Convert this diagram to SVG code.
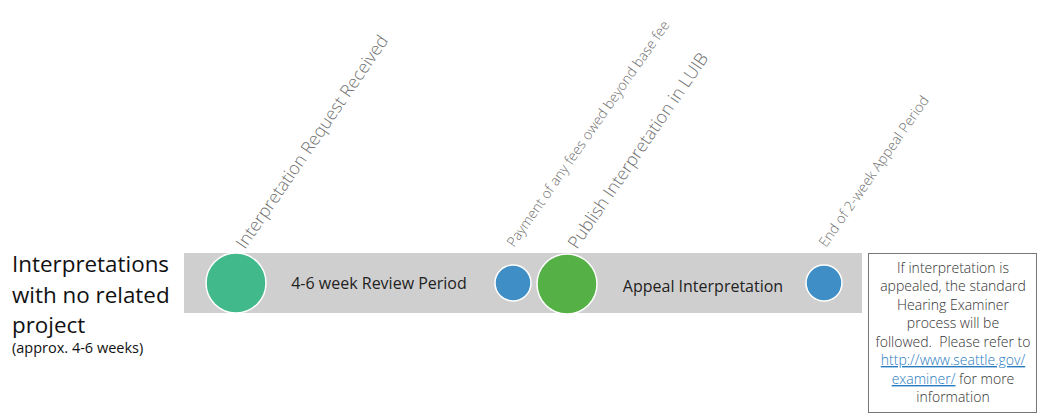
<svg xmlns="http://www.w3.org/2000/svg" width="1037" height="414" viewBox="0 0 1037 414">
<style>
.lbl{font-family:"Open Sans","Liberation Sans",sans-serif;font-weight:300;fill:#707070}
.big{font-size:17.6px}
.sm{font-size:14px}
.phase{font-family:"Open Sans","Liberation Sans",sans-serif;font-size:16px;fill:#222}
.title{font-family:"Open Sans","Liberation Sans",sans-serif;font-size:22.4px;fill:#111}
.note{font-family:"Open Sans","Liberation Sans",sans-serif;font-weight:300;font-size:14px;fill:#333;text-anchor:middle;white-space:pre}
.dot{stroke:#fff;stroke-width:1.5}
</style>
<rect x="184" y="253" width="678" height="60" fill="#d0cfcf"/>
<g id="title">
<text class="title" x="12" y="272">Interpretations</text>
<text class="title" x="12" y="303">with no related</text>
<text class="title" x="12" y="333">project</text>
<text class="title" x="12" y="353" style="font-size:14.5px">(approx. 4-6 weeks)</text>
</g>
<g id="connectors"></g>
<g id="n1"><circle class="dot" cx="236" cy="283" r="30" fill="#41b98a"/>
<text class="lbl big" transform="translate(245,250) rotate(-55.5)">Interpretation Request Received</text></g>
<g id="p1"><text class="phase" x="379" y="289" text-anchor="middle">4-6 week Review Period</text></g>
<g id="n2"><circle class="dot" cx="513" cy="283" r="18" fill="#3f8fc6"/>
<text class="lbl sm" transform="translate(514,248) rotate(-55)">Payment of any fees owed beyond base fee</text></g>
<g id="n3"><circle class="dot" cx="567" cy="284" r="30" fill="#55b045"/>
<text class="lbl big" transform="translate(577,250) rotate(-55.5)">Publish Interpretation in LUIB</text></g>
<g id="p2"><text class="phase" x="703" y="292" text-anchor="middle">Appeal Interpretation</text></g>
<g id="n4"><circle class="dot" cx="824" cy="283" r="18" fill="#3f8fc6"/>
<text class="lbl sm" transform="translate(826,248) rotate(-55)">End of 2-week Appeal Period</text></g>
<g id="note">
<rect x="868.5" y="253.5" width="168" height="159" fill="#fff" stroke="#777"/>
<text class="note" x="953" y="273">If interpretation is</text>
<text class="note" x="953" y="291">appealed, the standard</text>
<text class="note" x="953" y="310">Hearing Examiner</text>
<text class="note" x="953" y="328">process will be</text>
<text class="note" x="953" y="347" xml:space="preserve">followed.  Please refer to</text>
<text class="note" x="953" y="365" text-decoration="underline" style="fill:#2a7bbf">http://www.seattle.gov/</text>
<text class="note" x="953" y="384"><tspan style="fill:#2a7bbf" text-decoration="underline">examiner/</tspan> for more</text>
<text class="note" x="953" y="402">information</text>
</g>
</svg>
